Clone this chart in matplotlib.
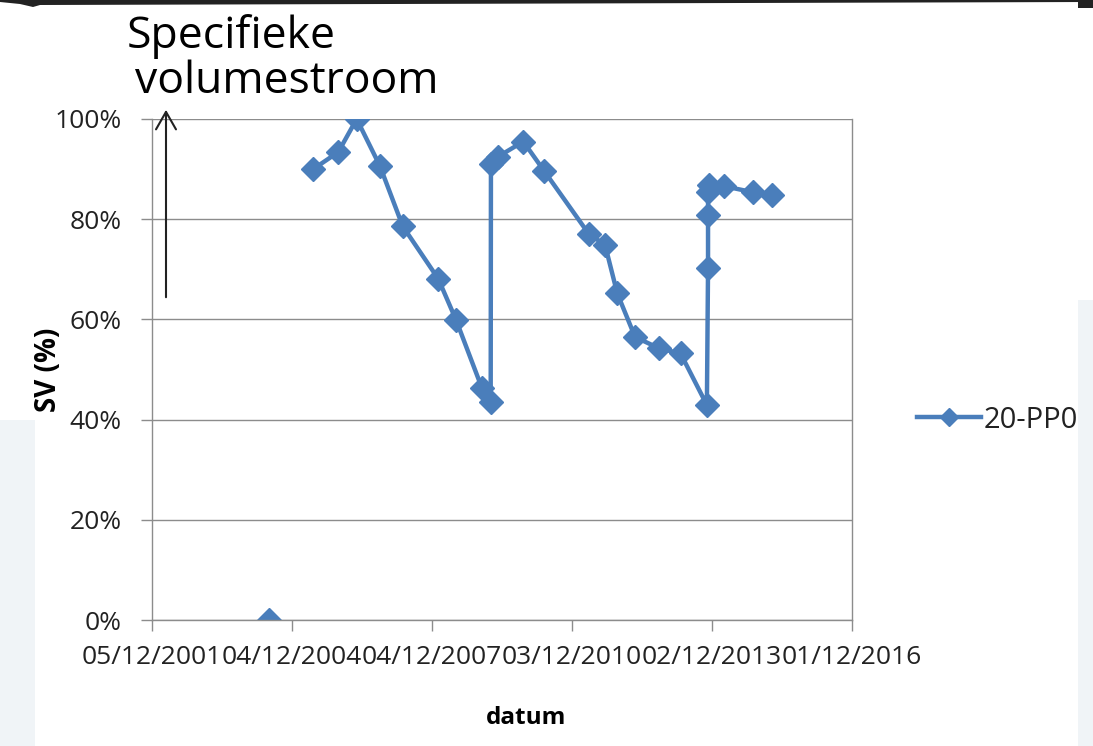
import pandas as pd
import numpy as np
import matplotlib
matplotlib.use('Agg')
import matplotlib.pyplot as plt
import matplotlib.dates as mdates
from matplotlib.patches import Rectangle, Polygon, FancyArrowPatch
from matplotlib.lines import Line2D

# measurement dates and specific flow (fraction of 1.0)
first_date = ['2004-06-07']
first_sv = [0.0]

dates = ['2005-05-19', '2005-12-01', '2006-04-24', '2006-10-23', '2007-04-19',
         '2008-01-22', '2008-06-09', '2008-12-27', '2009-03-07', '2009-03-09',
         '2009-05-05', '2009-11-17', '2010-04-30', '2011-04-15', '2011-08-18',
         '2011-11-22', '2012-04-09', '2012-10-16', '2013-03-31', '2013-10-23',
         '2013-11-01', '2013-11-01', '2013-11-01', '2013-11-10', '2014-03-04',
         '2014-10-15', '2015-03-20']
sv = [0.900, 0.934, 1.000, 0.906, 0.786,
      0.681, 0.599, 0.464, 0.436, 0.911,
      0.925, 0.955, 0.896, 0.770, 0.749,
      0.652, 0.565, 0.542, 0.532, 0.429,
      0.702, 0.808, 0.855, 0.868, 0.866,
      0.854, 0.848]

tick_dates = ['2001-12-05', '2004-12-04', '2007-12-04', '2010-12-03',
              '2013-12-02', '2016-12-01']
y_ticks = [0, 0.2, 0.4, 0.6, 0.8, 1.0]
series_name = '20-PP01'

blue = '#4a7ebb'
grey = '#8c8c8c'
W, H = 1093, 746

fig = plt.figure(figsize=(W / 100, H / 100), dpi=100)
fig.patch.set_facecolor('white')
ax = fig.add_axes([152 / W, (H - 620) / H, 700 / W, 501 / H])

style = dict(color=blue, lw=3.2, marker='D', markersize=12,
             markerfacecolor=blue, markeredgecolor=blue)
ax.plot(pd.to_datetime(first_date), first_sv, ls='none', marker='D', markersize=12,
        color=blue)
ax.plot(pd.to_datetime(dates), sv, **style)

ticks = pd.to_datetime(tick_dates)
ax.set_xlim(ticks[0], ticks[-1])
ax.set_xticks(ticks)
ax.xaxis.set_major_formatter(mdates.DateFormatter('%d/%m/%Y'))
ax.set_ylim(0, 1.0)
ax.set_yticks(y_ticks)
ax.set_yticklabels([f'{int(round(v * 100))}%' for v in y_ticks])

ax.grid(axis='y', color=grey, lw=1.0)
ax.set_axisbelow(True)
for s in ['left', 'bottom', 'right']:
    ax.spines[s].set_color(grey)
    ax.spines[s].set_linewidth(1.0)
ax.spines['top'].set_visible(False)
ax.tick_params(axis='both', color=grey, length=8, width=1.0, labelsize=19)
ax.tick_params(axis='y', pad=14)
ax.tick_params(axis='x', pad=10)
for lab in ax.get_xticklabels() + ax.get_yticklabels():
    lab.set_fontfamily('Open Sans')
    lab.set_color('#222222')

ax.set_ylabel('SV (%)', fontsize=20, fontweight='bold', family='Open Sans')
ax.yaxis.set_label_coords(-0.127, 0.5)
ax.set_xlabel('datum', fontsize=17.5, fontweight='bold', family='Open Sans')
ax.xaxis.set_label_coords(0.534, -0.172)

# legend on the right (text runs under the slide edge)
handle = Line2D([], [], color=blue, lw=3.2, marker='D', markersize=9)
leg = fig.legend([handle], [series_name], loc='center left',
                 bbox_to_anchor=(917 / W, (H - 420) / H), frameon=False,
                 prop={'family': 'Open Sans', 'size': 21}, borderpad=0,
                 borderaxespad=0, handlelength=2.2, handletextpad=0.1)
for t in leg.get_texts():
    t.set_color('#222222')

# title text and arrow top-left
fig.text(127 / W, 1 - 48 / H, 'Specifieke', fontsize=32, family='Open Sans',
         va='baseline', ha='left')
fig.text(135 / W, 1 - 93 / H, 'volumestroom', fontsize=32, family='Open Sans',
         va='baseline', ha='left')
fig.add_artist(FancyArrowPatch(
    (166 / W, 1 - 300 / H), (166 / W, 1 - 107 / H), transform=fig.transFigure,
    arrowstyle='->,head_length=0.7,head_width=0.4', mutation_scale=18,
    color='#222222', lw=1.5))

# slide background bits around the chart
fig.add_artist(Rectangle((0, 0), 35 / W, (H - 420) / H, transform=fig.transFigure,
                         facecolor='#f0f4f7', edgecolor='none', zorder=10))
fig.add_artist(Rectangle((1078 / W, 0), 15 / W, (H - 300) / H, transform=fig.transFigure,
                         facecolor='#f0f4f7', edgecolor='none', zorder=10))
fig.add_artist(Rectangle((1078 / W, 1 - 8 / H), 15 / W, 8 / H, transform=fig.transFigure,
                         facecolor='#222222', edgecolor='none', zorder=10))
band = np.array([[0, 746], [0, 744], [20, 742], [33, 739], [40, 741],
                 [1093, 744], [1093, 746]], dtype=float)
band[:, 0] /= W
band[:, 1] /= H
fig.add_artist(Polygon(band, closed=True, transform=fig.transFigure,
                       facecolor='#222222', edgecolor='none', zorder=10))

fig.savefig('out.png', dpi=100)
